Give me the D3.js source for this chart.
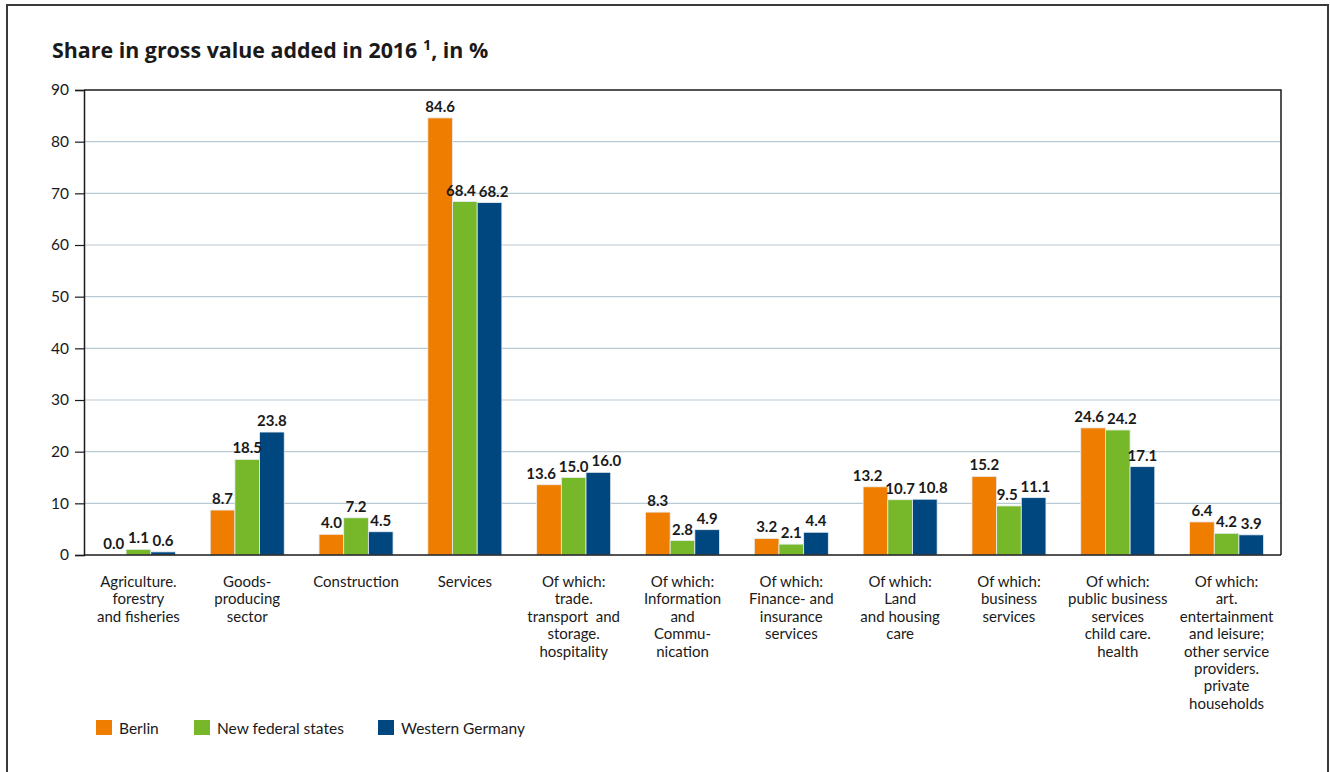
<!DOCTYPE html>
<html>
<head>
<meta charset="utf-8">
<script src="https://cdn.jsdelivr.net/npm/d3@7"></script>
<style>
  html, body { margin: 0; padding: 0; background: #fff; }
  svg { display: block; font-family: Lato, "Open Sans", sans-serif; }
  text { white-space: pre; }
</style>
</head>
<body>
<svg id="chart" width="1330" height="772"></svg>
<script>
// Sector groups (multi-line axis labels)
const categories = [
  ["Agriculture.", "forestry", "and fisheries"],
  ["Goods-", "producing", "sector"],
  ["Construction"],
  ["Services"],
  ["Of which:", "trade.", "transport  and", "storage.", "hospitality"],
  ["Of which:", "Information", "and", "Commu-", "nication"],
  ["Of which:", "Finance- and", "insurance", "services"],
  ["Of which:", "Land", "and housing", "care"],
  ["Of which:", "business", "services"],
  ["Of which:", "public business", "services", "child care.", "health"],
  ["Of which:", "art.", "entertainment", "and leisure;", "other service", "providers.", "private", "households"]
];

const seriesNames = ["Berlin", "New federal states", "Western Germany"];
const seriesColors = ["#ef7d00", "#76b82a", "#00467f"];

const berlin   = [0.0, 8.7, 4.0, 84.6, 13.6, 8.3, 3.2, 13.2, 15.2, 24.6, 6.4];
const newStates = [1.1, 18.5, 7.2, 68.4, 15.0, 2.8, 2.1, 10.7, 9.5, 24.2, 4.2];
const western  = [0.6, 23.8, 4.5, 68.2, 16.0, 4.9, 4.4, 10.8, 11.1, 17.1, 3.9];
const seriesValues = [berlin, newStates, western];

const yTicks = [0, 10, 20, 30, 40, 50, 60, 70, 80, 90];

const svg = d3.select("#chart");
const ink = "#1a1a1a";

// Outer frame
svg.append("rect")
  .attr("x", 7).attr("y", 5).attr("width", 1321).attr("height", 780)
  .attr("fill", "none").attr("stroke", "#3a3a3a").attr("stroke-width", 2);

// Title
const title = svg.append("text")
  .attr("x", 52).attr("y", 58)
  .attr("font-family", "'Open Sans', sans-serif")
  .attr("font-size", 21.4).attr("font-weight", "bold").attr("fill", ink);
title.append("tspan").text("Share in gross value added in 2016 ");
title.append("tspan").attr("font-size", 14.5).attr("dy", -8).text("1");
title.append("tspan").attr("dy", 8).text(", in %");

const plotL = 84, plotR = 1281, plotT = 90, plotB = 555;

const x0 = d3.scaleBand()
  .domain(d3.range(categories.length))
  .range([plotL, plotR])
  .paddingInner(0.32)
  .paddingOuter(0.16);

const x1 = d3.scaleBand()
  .domain(d3.range(seriesNames.length))
  .range([0, x0.bandwidth()]);

const y = d3.scaleLinear().domain([0, 90]).range([plotB, plotT]);

// Horizontal gridlines
svg.append("g")
  .selectAll("line")
  .data(yTicks.filter(t => t > 0 && t < 90))
  .join("line")
  .attr("x1", plotL).attr("x2", plotR)
  .attr("y1", d => y(d)).attr("y2", d => y(d))
  .attr("stroke", "#b9cad4").attr("stroke-width", 1.2);

// Y axis
const yAxis = svg.append("g")
  .attr("transform", `translate(${plotL},0)`)
  .call(d3.axisLeft(y).tickValues(yTicks).tickSize(9).tickPadding(6).tickFormat(d3.format("d")));
yAxis.select(".domain").attr("stroke", ink).attr("stroke-width", 1.5);
yAxis.selectAll(".tick line").attr("stroke", ink).attr("stroke-width", 1.2);
yAxis.selectAll(".tick text")
  .attr("font-size", 15.5).attr("fill", ink)
  .attr("font-family", "Lato, 'Open Sans', sans-serif");

// Bars
const groups = svg.append("g")
  .selectAll("g")
  .data(categories.map((c, i) => i))
  .join("g")
  .attr("transform", i => `translate(${x0(i)},0)`);

groups.selectAll("rect")
  .data(i => seriesValues.map((vals, s) => ({ s, v: vals[i] })))
  .join("rect")
  .attr("x", d => x1(d.s))
  .attr("width", x1.bandwidth())
  .attr("y", d => y(d.v))
  .attr("height", d => y(0) - y(d.v))
  .attr("fill", d => seriesColors[d.s])
  .attr("stroke", "#e8eef2").attr("stroke-width", 0.8);

// Value labels, centred over each bar, then nudged apart where neighbours collide
groups.each(function (i) {
  const g = d3.select(this);
  const labels = seriesValues.map((vals, s) => {
    const v = vals[i];
    const cx = x1(s) + x1.bandwidth() / 2;
    const t = g.append("text")
      .attr("y", y(v) - 6)
      .attr("text-anchor", "middle")
      .attr("font-size", 15).attr("font-weight", "bold").attr("fill", ink)
      .text(v.toFixed(1));
    return { t, cx, ly: y(v) - 6, w: t.node().getComputedTextLength() };
  });
  for (let pass = 0; pass < 4; pass++) {
    for (let k = 0; k < labels.length - 1; k++) {
      const a = labels[k], b = labels[k + 1];
      if (Math.abs(a.ly - b.ly) >= 13) continue;
      const need = (a.w + b.w) / 2 + 3;
      const gap = b.cx - a.cx;
      if (gap < need) {
        const d = (need - gap) / 2;
        a.cx -= d; b.cx += d;
      }
    }
  }
  labels.forEach(l => l.t.attr("x", l.cx));
});

// Plot frame (top, right) and baseline
svg.append("path")
  .attr("d", `M${plotL},${plotT}H${plotR}V${plotB}`)
  .attr("fill", "none").attr("stroke", ink).attr("stroke-width", 1.5);
svg.append("line")
  .attr("x1", plotL).attr("x2", plotR).attr("y1", plotB).attr("y2", plotB)
  .attr("stroke", ink).attr("stroke-width", 1.5);

// Category labels
const catLabels = svg.append("g")
  .selectAll("text")
  .data(categories)
  .join("text")
  .attr("x", (d, i) => x0(i) + x0.bandwidth() / 2)
  .attr("y", 587)
  .attr("text-anchor", "middle")
  .attr("font-size", 15).attr("fill", ink);
catLabels.selectAll("tspan")
  .data(d => d)
  .join("tspan")
  .attr("x", function () { return this.parentNode.getAttribute("x"); })
  .attr("dy", (d, j) => j === 0 ? 0 : 17.4)
  .text(d => d);

// Legend
const legendX = [96, 194, 378];
const legend = svg.append("g")
  .selectAll("g")
  .data(seriesNames)
  .join("g")
  .attr("transform", (d, i) => `translate(${legendX[i]},720)`);
legend.append("rect")
  .attr("width", 16).attr("height", 15)
  .attr("fill", (d, i) => seriesColors[i]);
legend.append("text")
  .attr("x", 23).attr("y", 13.5)
  .attr("font-size", 15.5).attr("fill", ink)
  .text(d => d);
</script>
</body>
</html>
